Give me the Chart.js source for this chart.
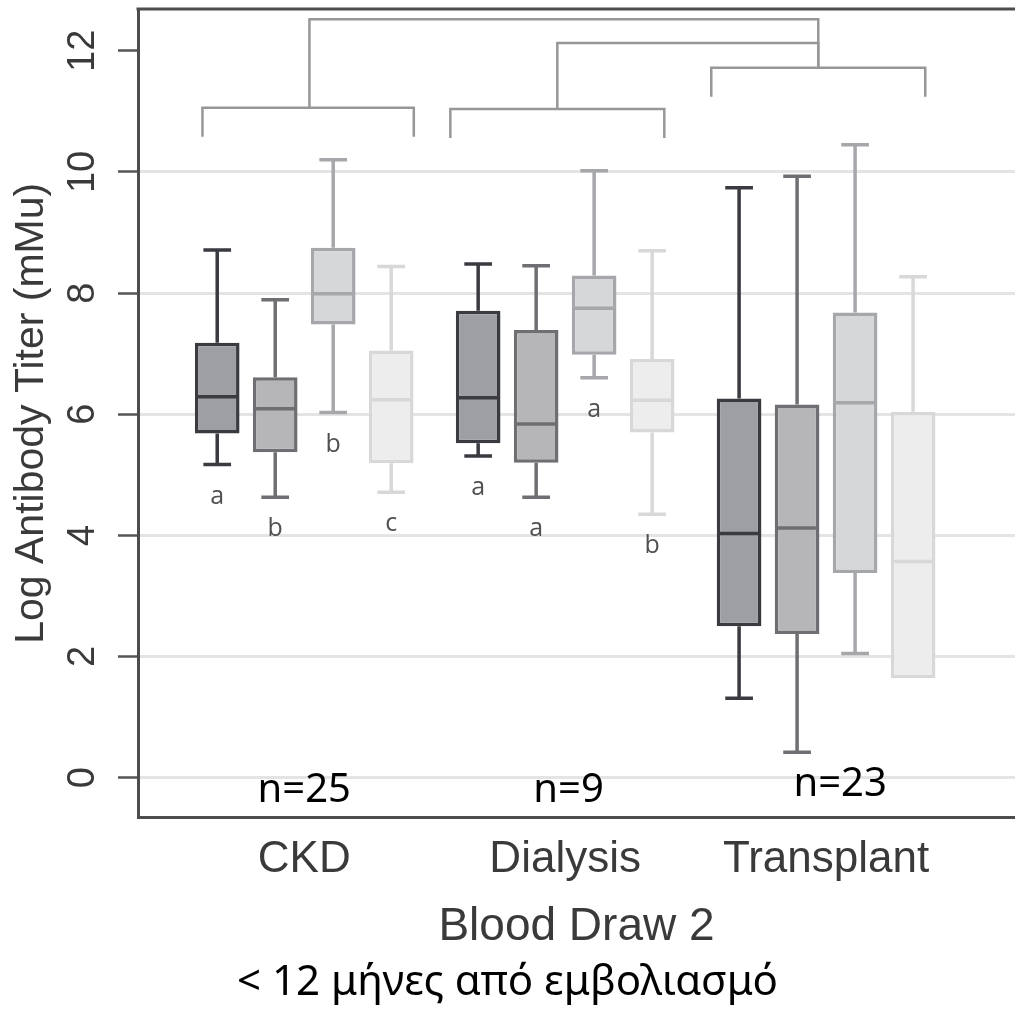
<!DOCTYPE html>
<html>
<head>
<meta charset="utf-8">
<script src="https://cdn.jsdelivr.net/npm/chart.js@4.4.0/dist/chart.umd.min.js"></script>
<style>
  html, body { margin: 0; padding: 0; background: #ffffff; }
  #wrap { width: 1015px; height: 1009px; }
</style>
</head>
<body>
<div id="wrap"><canvas id="c" width="1015" height="1009"></canvas></div>
<script>
// ---------- data ----------
const categories  = ['CKD', 'Dialysis', 'Transplant'];
const seriesNames = ['Group 1', 'Group 2', 'Group 3', 'Group 4'];
const yTicks      = [0, 2, 4, 6, 8, 10, 12];
// [series][category]
const whiskerLow  = [[5.17, 5.31, 1.31], [4.63, 4.63, 0.42], [6.03, 6.60, 2.05], [4.71, 4.35, 1.64]];
const quartile1   = [[5.68, 5.52, 2.50], [5.37, 5.20, 2.37], [7.48, 6.98, 3.38], [5.19, 5.70, 1.64]];
const medians     = [[6.29, 6.27, 4.03], [6.09, 5.84, 4.12], [7.99, 7.75, 6.19], [6.24, 6.23, 3.57]];
const quartile3   = [[7.18, 7.71, 6.26], [6.61, 7.39, 6.16], [8.75, 8.29, 7.68], [7.05, 6.91, 6.04]];
const whiskerHigh = [[8.71, 8.48, 9.74], [7.89, 8.45, 9.93], [10.20, 10.02, 10.45], [8.44, 8.70, 8.27]];
const sigLetters  = [['a', 'a', ''], ['b', 'a', ''], ['b', 'a', ''], ['c', 'b', '']];
const sampleSizes = ['n=25', 'n=9', 'n=23'];
const xTitle = 'Blood Draw 2';
const yTitle = 'Log Antibody Titer (mMu)';
const subTitle = '< 12 μήνες από εμβολιασμό';

// ---------- annotation layout (positions in axis units) ----------
const bracketSpan   = [[-0.39, 0.42], [-0.44, 0.38], [-0.44, 0.38]];
const bracketLevel  = [11.06, 11.04, 11.72];
const bracketLegDrop = 0.48;
const bracketStem   = [0.02, -0.03, -0.03];
const bracketLinks  = [{ from: 0, to: 2, level: 12.52 }, { from: 1, to: 2, level: 12.13 }];
const nLabelAnchor  = [{ dx: 0.0, v: -0.40 }, { dx: 0.013, v: -0.40 }, { dx: 0.054, v: -0.31 }];

// ---------- styles ----------
const fills   = ['#9e9fa3', '#b6b6b8', '#d6d7d9', '#ededed'];
const strokes = ['#3a3b41', '#6e6e73', '#a6a7aa', '#d8d8d8'];
const axisText = '#3a3a3a';
const sansFamily = '"Liberation Sans", Arial, Helvetica, sans-serif';

Chart.defaults.font.family = sansFamily;

const extras = {
  id: 'boxExtras',
  beforeDatasetsDraw(chart) {
    const { ctx, chartArea: a, scales: { x, y } } = chart;
    ctx.save();
    // top frame line
    ctx.strokeStyle = '#4d4d4d';
    ctx.lineWidth = 3;
    ctx.beginPath();
    ctx.moveTo(a.left - 1.5, a.top);
    ctx.lineTo(a.right, a.top);
    ctx.stroke();
    // significance brackets
    ctx.strokeStyle = '#979797';
    ctx.lineWidth = 2.5;
    categories.forEach((c, j) => {
      const xa = x.getPixelForValue(j + bracketSpan[j][0]);
      const xb = x.getPixelForValue(j + bracketSpan[j][1]);
      const yl = y.getPixelForValue(bracketLevel[j]);
      const yg = y.getPixelForValue(bracketLevel[j] - bracketLegDrop);
      ctx.beginPath();
      ctx.moveTo(xa, yg); ctx.lineTo(xa, yl); ctx.lineTo(xb, yl); ctx.lineTo(xb, yg);
      ctx.stroke();
    });
    bracketLinks.forEach(l => {
      const xf = x.getPixelForValue(l.from + bracketStem[l.from]);
      const xt = x.getPixelForValue(l.to + bracketStem[l.to]);
      const yk = y.getPixelForValue(l.level);
      ctx.beginPath();
      ctx.moveTo(xf, y.getPixelForValue(bracketLevel[l.from]));
      ctx.lineTo(xf, yk);
      ctx.lineTo(xt, yk);
      ctx.lineTo(xt, y.getPixelForValue(bracketLevel[l.to]));
      ctx.stroke();
    });
    // sample sizes
    ctx.fillStyle = '#000000';
    ctx.font = '40px "Noto Sans", "Open Sans", sans-serif';
    ctx.textAlign = 'center';
    ctx.textBaseline = 'alphabetic';
    sampleSizes.forEach((t, j) => {
      ctx.fillText(t, x.getPixelForValue(j + nLabelAnchor[j].dx), y.getPixelForValue(nLabelAnchor[j].v));
    });
    ctx.restore();
  },
  afterDatasetsDraw(chart) {
    const { ctx, scales: { y } } = chart;
    ctx.save();
    ctx.lineCap = 'butt';
    chart.data.datasets.forEach((ds, i) => {
      const meta = chart.getDatasetMeta(i);
      meta.data.forEach((bar, j) => {
        const cx = bar.x, w = bar.width, cap = w * 0.62;
        const yq1 = y.getPixelForValue(quartile1[i][j]);
        const yq3 = y.getPixelForValue(quartile3[i][j]);
        const ylo = y.getPixelForValue(whiskerLow[i][j]);
        const yhi = y.getPixelForValue(whiskerHigh[i][j]);
        const ymd = y.getPixelForValue(medians[i][j]);
        ctx.strokeStyle = strokes[i];
        ctx.lineWidth = 3.5;
        ctx.beginPath();
        ctx.moveTo(cx, yq3); ctx.lineTo(cx, yhi);
        ctx.moveTo(cx - cap / 2, yhi); ctx.lineTo(cx + cap / 2, yhi);
        if (whiskerLow[i][j] < quartile1[i][j]) {
          ctx.moveTo(cx, yq1); ctx.lineTo(cx, ylo);
          ctx.moveTo(cx - cap / 2, ylo); ctx.lineTo(cx + cap / 2, ylo);
        }
        ctx.moveTo(cx - w / 2 + 1, ymd); ctx.lineTo(cx + w / 2 - 1, ymd);
        ctx.stroke();
        const letter = sigLetters[i][j];
        if (letter) {
          ctx.fillStyle = '#505050';
          ctx.font = '25px "Open Sans", "Noto Sans", sans-serif';
          ctx.textAlign = 'center';
          ctx.textBaseline = 'middle';
          ctx.fillText(letter, cx, ylo + 32);
        }
      });
    });
    ctx.restore();
  }
};

new Chart(document.getElementById('c'), {
  type: 'bar',
  data: {
    datasets: seriesNames.map((name, i) => ({
      label: name,
      data: categories.map((c, j) => ({ x: j, y: [quartile1[i][j], quartile3[i][j]] })),
      backgroundColor: fills[i],
      borderColor: strokes[i],
      borderWidth: 3.5,
      borderSkipped: false,
      categoryPercentage: 0.889,
      barPercentage: 0.77
    }))
  },
  options: {
    responsive: false,
    devicePixelRatio: 1,
    animation: false,
    layout: { padding: { top: 9, left: 0, right: 0, bottom: 0 } },
    plugins: {
      legend: { display: false },
      tooltip: { enabled: false },
      title: {
        display: true,
        position: 'bottom',
        text: subTitle,
        color: '#000000',
        font: { family: '"Noto Sans", "Open Sans", sans-serif', size: 42, weight: 'normal' },
        padding: { top: 0, bottom: 1 }
      }
    },
    scales: {
      x: {
        type: 'linear',
        min: -0.637,
        max: 2.724,
        offset: false,
        afterBuildTicks: s => { s.ticks = categories.map((c, j) => ({ value: j })); },
        grid: { display: false, drawTicks: false },
        border: { display: true, color: '#4d4d4d', width: 3 },
        ticks: {
          autoSkip: false, maxRotation: 0, minRotation: 0, padding: 16,
          color: axisText, font: { size: 44 },
          callback: v => (categories[v] !== undefined ? categories[v] : '')
        },
        title: {
          display: true, text: xTitle, color: axisText,
          font: { size: 46 }, padding: { top: 0, bottom: 2.4 }
        },
        afterFit: s => { s.height = 140; s.paddingLeft = 0; s.paddingRight = 0; }
      },
      y: {
        min: -0.66,
        max: 12.69,
        afterBuildTicks: s => { s.ticks = yTicks.map(v => ({ value: v })); },
        grid: {
          color: c => (c.tick && c.tick.value === 12 ? 'rgba(0,0,0,0)' : '#e4e4e4'),
          lineWidth: 3, drawTicks: true, tickLength: 20, tickColor: '#555555', tickWidth: 2.5
        },
        border: { display: true, color: '#4d4d4d', width: 3 },
        ticks: {
          minRotation: 90, maxRotation: 90, crossAlign: 'center', padding: 13,
          color: axisText, font: { size: 38 }
        },
        title: {
          display: true, text: yTitle, color: axisText,
          font: { size: 41 }, padding: { top: 7, bottom: 0 }
        },
        afterFit: s => { s.width = 138; s.paddingTop = 0; s.paddingBottom = 0; }
      }
    }
  },
  plugins: [extras]
});
</script>
</body>
</html>
